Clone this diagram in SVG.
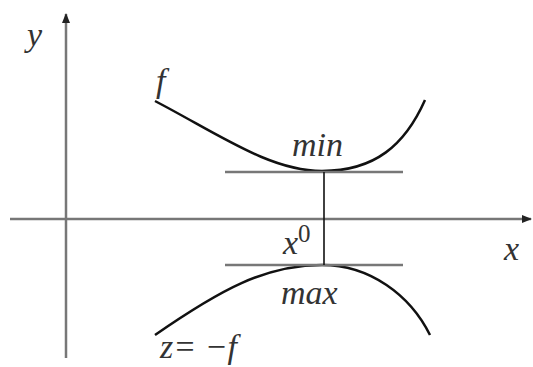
<svg xmlns="http://www.w3.org/2000/svg" width="533" height="367" viewBox="0 0 533 367">
<style>
.axis{stroke:#777;stroke-width:2.5;fill:none}
.tan{stroke:#777;stroke-width:2.5;fill:none}
.curve{stroke:#111;stroke-width:2.5;fill:none}
.t{font-family:'Liberation Serif','Times New Roman',serif;font-style:italic;font-size:34px;fill:#333}
</style>
<defs>
<marker id="ah" markerWidth="10" markerHeight="8" refX="9" refY="4" orient="auto" markerUnits="userSpaceOnUse"><path d="M0,0 L10,4 L0,8 Z" fill="#222"/></marker>
</defs>
<rect width="533" height="367" fill="#fff"/>
<g id="axes">
<line class="axis" x1="66" y1="358" x2="66" y2="14" marker-end="url(#ah)"/>
<line class="axis" x1="10" y1="219" x2="531" y2="219" marker-end="url(#ah)"/>
</g>
<g id="curves">
<path class="curve" d="M155,101 C220,135 270,171 322,171 C375,171 405,145 425,100"/>
<path class="curve" d="M155,335 C220,290 265,265 322,265 C370,265 410,295 430,335"/>
</g>
<g id="connectors">
<line class="tan" x1="225" y1="172" x2="403" y2="172"/>
<line class="tan" x1="225" y1="265" x2="403" y2="265"/>
<line stroke="#111" stroke-width="1.6" x1="324" y1="172" x2="324" y2="265"/>
</g>
<g id="labels">
<text class="t" x="27" y="46">y</text>
<text class="t" x="156" y="92">f</text>
<text class="t" x="292" y="156">min</text>
<text class="t" x="283" y="254">x<tspan style="font-style:normal" font-size="25" dy="-12">0</tspan></text>
<text class="t" x="281" y="304">max</text>
<text class="t" x="160" y="358">z= −f</text>
<text class="t" x="504" y="260">x</text>
</g>
</svg>
